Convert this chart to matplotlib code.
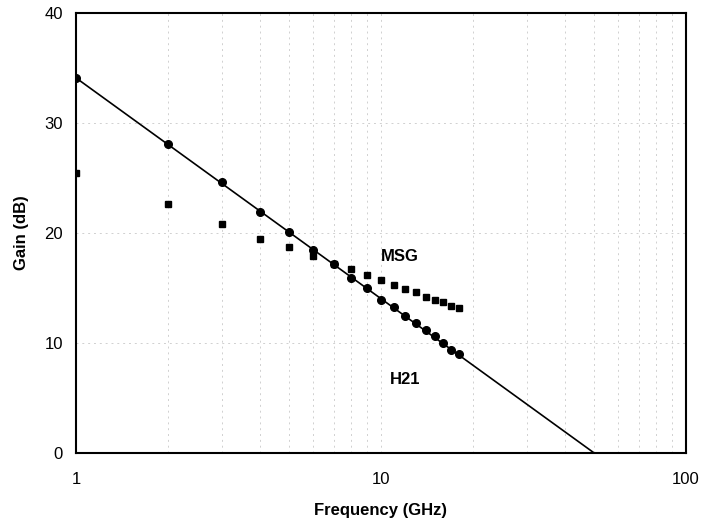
import matplotlib
matplotlib.use("Agg")
import matplotlib.pyplot as plt
from matplotlib.ticker import FixedLocator, NullFormatter

plt.rcParams['font.family'] = ['Liberation Sans', 'DejaVu Sans']

freq = [1, 2, 3, 4, 5, 6, 7, 8, 9, 10, 11, 12, 13, 14, 15, 16, 17, 18]
h21 = [34.1, 28.1, 24.6, 21.9, 20.1, 18.5, 17.2, 15.9, 15.0, 13.9, 13.3, 12.5,
       11.8, 11.2, 10.6, 10.0, 9.4, 9.0]
msg = [25.5, 22.6, 20.8, 19.5, 18.7, 17.9, 17.2, 16.7, 16.2, 15.7, 15.3, 14.9,
       14.6, 14.2, 13.9, 13.7, 13.4, 13.2]
fit_freq = [1, 50]
fit_gain = [34.1, 0]

x_ticks = [1, 10, 100]
x_ticklabels = ['1', '10', '100']
y_ticks = [0, 10, 20, 30, 40]

fig = plt.figure(figsize=(7.13, 5.22), dpi=100)
ax = fig.add_axes([76/713, 69/522, 610/713, 440/522])

ax.set_xscale('log')
ax.set_xlim(1, 100)
ax.set_ylim(0, 40)

minor = [m * d for d in (1, 10) for m in range(2, 10)]
ax.xaxis.set_minor_locator(FixedLocator(minor))
ax.xaxis.set_minor_formatter(NullFormatter())
ax.set_xticks(x_ticks)
ax.set_xticklabels(x_ticklabels)
ax.set_yticks(y_ticks)

ax.grid(True, which='both', axis='x', color='#d0d0d0', linestyle=(0, (2, 4)), linewidth=0.7)
ax.grid(True, which='major', axis='y', color='#d0d0d0', linestyle=(0, (2, 4)), linewidth=0.7)
ax.set_axisbelow(True)

ax.plot(fit_freq, fit_gain, color='black', linewidth=1.2, zorder=3)
ax.plot(freq, h21, linestyle='none', marker='o', markersize=5.5, color='black', zorder=4)
ax.plot(freq, msg, linestyle='none', marker='s', markersize=5, color='black', zorder=4)

ax.text(11.5, 17.9, 'MSG', fontsize=12, fontweight='bold', ha='center', va='center')
ax.text(12.0, 6.7, 'H21', fontsize=12, fontweight='bold', ha='center', va='center')

ax.tick_params(which='both', length=0, labelsize=12)
ax.tick_params(axis='x', pad=14)
ax.tick_params(axis='y', pad=9.5)
for s in ax.spines.values():
    s.set_linewidth(1.5)
    s.set_color('black')

ax.set_xlabel('Frequency (GHz)', fontsize=12, fontweight='bold', labelpad=11)
ax.set_ylabel('Gain (dB)', fontsize=12, fontweight='bold', labelpad=11)

fig.savefig('out.png', dpi=100)
